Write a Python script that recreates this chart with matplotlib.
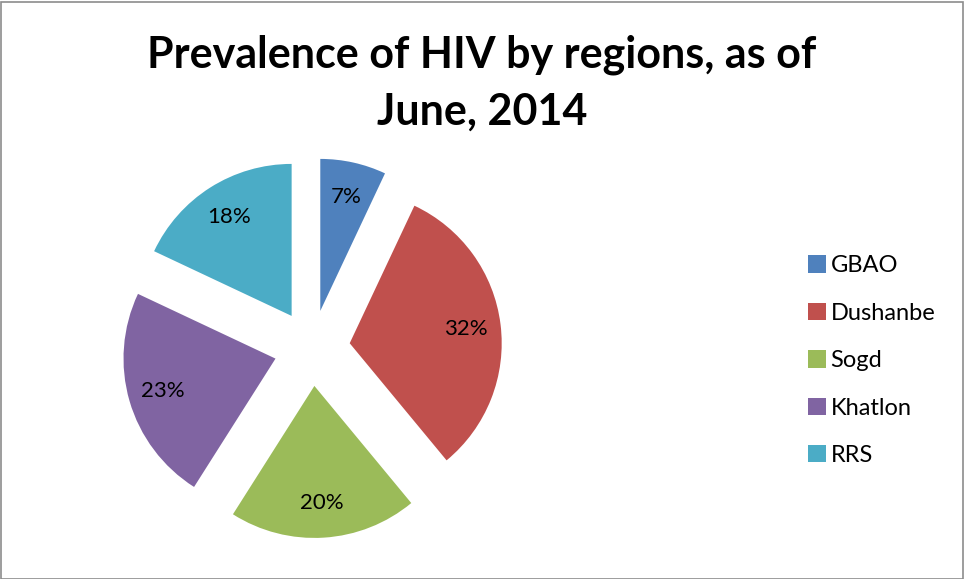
import matplotlib
matplotlib.use("Agg")
import matplotlib.pyplot as plt
from matplotlib.patches import Rectangle

regions = ["GBAO", "Dushanbe", "Sogd", "Khatlon", "RRS"]
shares = [7, 32, 20, 23, 18]
colors = ["#4F81BD", "#C0504D", "#9BBB59", "#8064A2", "#4BACC6"]
title = "Prevalence of HIV by regions, as of\nJune, 2014"

W, H = 964, 579
fig = plt.figure(figsize=(W / 100, H / 100), dpi=100)
fig.patch.set_facecolor("white")

# axes: square, scale 152 px per unit radius, center at (312, 348) px from top
L = 1.5
side = 2 * L * 152
cx, cy = 312, H - 348
ax = fig.add_axes([(cx - side / 2) / W, (cy - side / 2) / H, side / W, side / H])

wedges, texts, autotexts = ax.pie(
    shares, colors=colors, startangle=90, counterclock=False,
    explode=[0.25] * len(shares), radius=1.0,
    autopct=lambda p: f"{p:.0f}%", pctdistance=0.77,
    textprops=dict(fontsize=16, family="Lato", color="black"),
    wedgeprops=dict(linewidth=0),
)
ax.set_xlim(-L, L)
ax.set_ylim(-L, L)
ax.set_aspect("equal")
ax.axis("off")

fig.text(0.5, (H - 83) / H, title, ha="center", va="center",
         fontsize=31, fontweight="bold", family="Lato", linespacing=1.5)

leg = fig.legend(wedges, regions, loc="upper left",
                 bbox_to_anchor=(787 / W, (H - 234) / H),
                 frameon=False, handlelength=0.75, handleheight=0.75,
                 handletextpad=0.2, labelspacing=1.12,
                 prop=dict(family="Lato", size=17))

fig.add_artist(Rectangle((0.5 / W, 0.5 / H), (W - 2) / W, (H - 2) / H,
                         transform=fig.transFigure, fill=False,
                         edgecolor="#8c8c8c", linewidth=1.2))

fig.savefig("out.png", dpi=100)
